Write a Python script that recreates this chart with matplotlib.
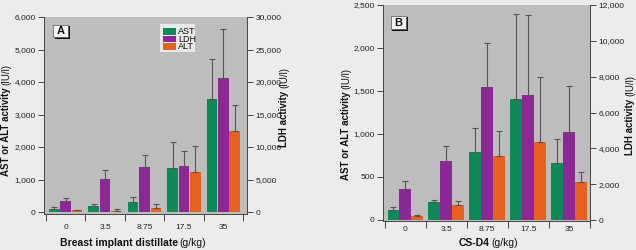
import matplotlib
matplotlib.use("Agg")
import matplotlib.pyplot as plt
import numpy as np
from matplotlib.patches import Rectangle
from matplotlib import font_manager

names = {f.name for f in font_manager.fontManager.ttflist}
NARROW = 'Liberation Sans Narrow' if 'Liberation Sans Narrow' in names else 'Liberation Sans'
plt.rcParams['font.family'] = [NARROW, 'DejaVu Sans']

# ---------------- data ----------------
doses = ["0", "3.5", "8.75", "17.5", "35"]

# Panel A: breast implant distillate
a_ast = [100, 175, 300, 1370, 3470]
a_ast_err = [140, 255, 460, 2150, 4700]
a_ldh = [1700, 5150, 6900, 7060, 20600]
a_ldh_err = [2165, 6440, 8800, 9330, 28200]
a_alt = [50, 40, 130, 1240, 2500]
a_alt_err = [50, 90, 255, 2025, 3300]

# Panel B: CS-D4
b_ast = [116, 209, 787, 1403, 659]
b_ast_err = [155, 233, 1070, 2391, 938]
b_ldh = [1745, 3280, 7400, 7000, 4920]
b_ldh_err = [2170, 4155, 9870, 11450, 7460]
b_alt = [47, 171, 744, 903, 446]
b_alt_err = [58, 217, 1039, 1659, 562]

series_names = ["AST", "LDH", "ALT"]
left_ticks_a = [0, 1000, 2000, 3000, 4000, 5000, 6000]
right_ticks_a = [0, 5000, 10000, 15000, 20000, 25000, 30000]
left_ticks_b = [0, 500, 1000, 1500, 2000, 2500]
right_ticks_b = [0, 2000, 4000, 6000, 8000, 10000, 12000]

GREEN = '#0e8a58'
PURPLE = '#8c2895'
ORANGE = '#e8601e'
PLOTBG = '#bdbdbd'
PAGE = '#ececec'
AXC = '#444444'

W, H = 636, 250
fig = plt.figure(figsize=(W / 100, H / 100), dpi=100, facecolor=PAGE)


def px_axes(l, t, r, b):
    return fig.add_axes([l / W, 1 - b / H, (r - l) / W, (b - t) / H])


def fmt(v):
    return f"{v:,}"


def panel(box, ast, aste, ldh, ldhe, alt, alte, lt, rt, lylim, rylim, xlim, width, off, xpad):
    ax = px_axes(*box)
    ax.set_facecolor(PLOTBG)
    ax2 = ax.twinx()
    x = np.arange(len(doses))
    ek = dict(ecolor='#555555', elinewidth=0.8, capsize=2, capthick=0.8)
    ast = np.array(ast); alt = np.array(alt); ldh = np.array(ldh)
    ax.bar(x - off, ast, width, color=GREEN, label="AST",
           yerr=[np.zeros(len(x)), np.array(aste) - ast], error_kw=ek, zorder=2)
    ax.bar(x + off, alt, width, color=ORANGE, label="ALT",
           yerr=[np.zeros(len(x)), np.array(alte) - alt], error_kw=ek, zorder=2)
    ax2.bar(x, ldh, width, color=PURPLE, label="LDH",
            yerr=[np.zeros(len(x)), np.array(ldhe) - ldh], error_kw=ek, zorder=2)
    ax.set_xlim(*xlim)
    ax.set_ylim(*lylim)
    ax2.set_ylim(*rylim)
    ax.set_yticks(lt)
    ax.set_yticklabels([fmt(v) for v in lt])
    ax2.set_yticks(rt)
    ax2.set_yticklabels([fmt(v) for v in rt])
    ax.set_xticks(x)
    ax.set_xticklabels(doses)
    ax.set_xticks(np.arange(-0.5, len(x), 1.0), minor=True)
    ax.tick_params(axis='x', which='major', length=0, pad=xpad, labelsize=6, colors='#222222')
    ax.tick_params(axis='x', which='minor', length=5, width=0.7, color=AXC, direction='out')
    ax.tick_params(axis='y', length=4, width=0.7, color=AXC, labelsize=6, pad=2, labelcolor='#222222')
    ax2.tick_params(axis='y', length=4, width=0.7, color=AXC, labelsize=6, pad=2, labelcolor='#222222')
    for a in (ax, ax2):
        a.spines['top'].set_visible(False)
        for s in ('left', 'right', 'bottom'):
            a.spines[s].set_color(AXC)
            a.spines[s].set_linewidth(0.7)
    ax.spines['right'].set_visible(False)
    ax2.spines['left'].set_visible(False)
    ax2.spines['bottom'].set_visible(False)
    ax2.patch.set_visible(False)
    return ax, ax2


axA, axA2 = panel((44, 17, 247, 214), a_ast, a_ast_err, a_ldh, a_ldh_err, a_alt, a_alt_err,
                  left_ticks_a, right_ticks_a, (-60, 6000), (-300, 30000), (-0.55, 4.6), 0.27, 0.29, 7.5)
axB, axB2 = panel((383, 5, 590, 221), b_ast, b_ast_err, b_ldh, b_ldh_err, b_alt, b_alt_err,
                  left_ticks_b, right_ticks_b, (-12, 2500), (-55, 12000), (-0.54, 4.51), 0.28, 0.29, 3.5)

BOLDFAM = [NARROW, 'DejaVu Sans']
NORMFAM = [NARROW, 'DejaVu Sans']
pending = []


def two_part(xc, yc, bold, normal, size, vertical=False):
    rot = 90 if vertical else 0
    t1 = fig.text(xc / W, yc / H, bold, fontsize=size, fontweight='bold', rotation=rot,
                  ha='center', va='center', family=BOLDFAM, color='#111111')
    t2 = fig.text(xc / W, yc / H, normal, fontsize=size, rotation=rot,
                  ha='center', va='center', family=NORMFAM, color='#111111')
    pending.append((t1, t2, xc, yc, vertical))


# x labels (y from bottom in px)
two_part(133, H - 243, "Breast implant distillate", "(g/kg)", 7.5)
two_part(488, H - 243, "CS-D4", "(g/kg)", 7.5)
# y labels
two_part(6, H - 120, "AST or ALT activity", "(IU/l)", 7, True)
two_part(284, H - 107, "LDH activity", "(IU/l)", 7, True)
two_part(346, H - 124, "AST or ALT activity", "(IU/l)", 7, True)
two_part(630, H - 115, "LDH activity", "(IU/l)", 7, True)

fig.canvas.draw()
sp = 2.0
for t1, t2, xc, yc, vertical in pending:
    b1 = t1.get_window_extent()
    b2 = t2.get_window_extent()
    if not vertical:
        w1, w2 = b1.width, b2.width
        x0 = xc - (w1 + sp + w2) / 2
        t1.set_x((x0 + w1 / 2) / W)
        t2.set_x((x0 + w1 + sp + w2 / 2) / W)
    else:
        h1, h2 = b1.height, b2.height
        y0 = yc - (h1 + sp + h2) / 2
        t1.set_y((y0 + h1 / 2) / H)
        t2.set_y((y0 + h1 + sp + h2 / 2) / H)


def letter_box(l, t, r, b, letter):
    fig.add_artist(Rectangle(((l + 1.5) / W, 1 - (b + 1.5) / H), (r - l) / W, (b - t) / H,
                             transform=fig.transFigure, facecolor='#111111', edgecolor='none'))
    fig.add_artist(Rectangle((l / W, 1 - b / H), (r - l) / W, (b - t) / H,
                             transform=fig.transFigure, facecolor='#f4f4f4', edgecolor='#555555', lw=0.5))
    fig.text((l + r) / 2 / W, 1 - (t + b) / 2 / H, letter, fontsize=8, fontweight='bold',
             ha='center', va='center', family=['Liberation Sans', 'DejaVu Sans'], color='#111111')


letter_box(53, 25, 68, 37, "A")
letter_box(391, 16, 406, 29, "B")

# legend in panel A
lx0, ly0, lx1, ly1 = 160, 24, 195, 52
fig.add_artist(Rectangle((lx0 / W, 1 - ly1 / H), (lx1 - lx0) / W, (ly1 - ly0) / H,
                         transform=fig.transFigure, facecolor='#e9e9e9', edgecolor='none'))
for i, (nm, col) in enumerate(zip(series_names, [GREEN, PURPLE, ORANGE])):
    yc = 31.5 + i * 7.5
    fig.add_artist(Rectangle((163 / W, 1 - (yc + 3) / H), 13 / W, 6 / H,
                             transform=fig.transFigure, facecolor=col, edgecolor='none'))
    fig.text(178 / W, 1 - yc / H, nm, fontsize=6.5, ha='left', va='center',
             family=NORMFAM, color='#111111')

fig.savefig("out.png", dpi=100, facecolor=PAGE)
